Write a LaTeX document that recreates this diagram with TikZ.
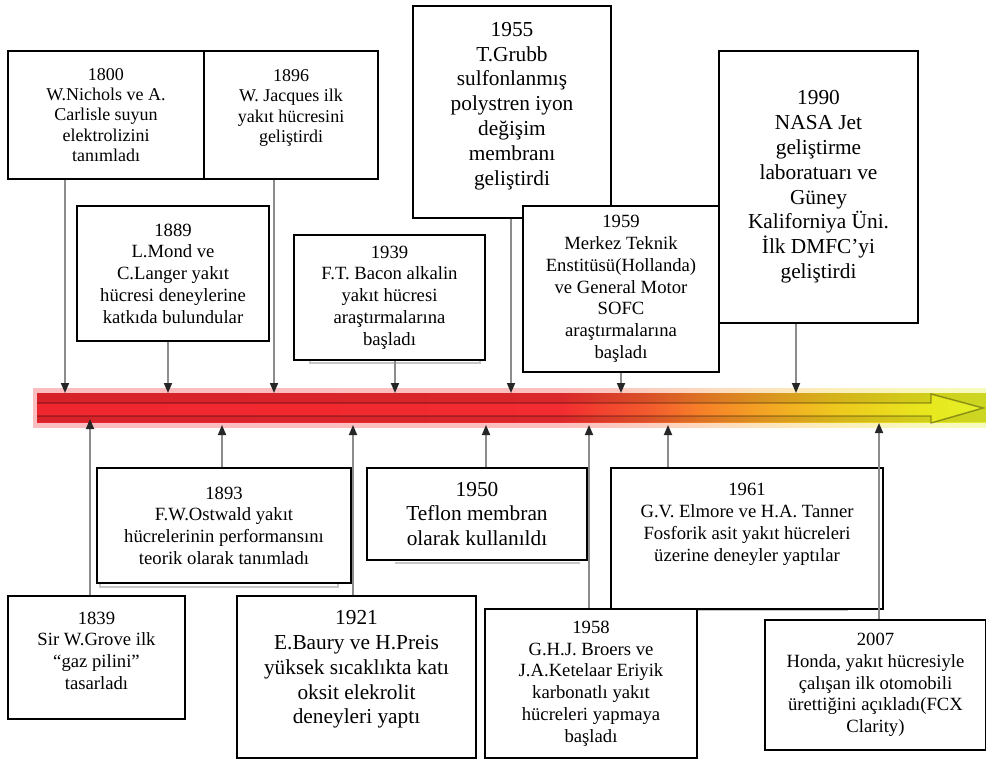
\documentclass[tikz,border=0pt]{standalone}
\usepackage{fontspec}
\setmainfont{Liberation Serif}
\usepackage{tikz}
\usetikzlibrary{arrows.meta}
\definecolor{barred}{RGB}{240,38,46}
\definecolor{barredb}{RGB}{242,44,48}
\definecolor{barredorange}{RGB}{242,88,45}
\definecolor{barorange}{RGB}{246,128,40}
\definecolor{barorangeb}{RGB}{243,166,35}
\definecolor{baryelloworange}{RGB}{238,200,30}
\definecolor{baryellow}{RGB}{232,232,30}
\definecolor{baryellowb}{RGB}{228,240,40}
\pgfdeclarehorizontalshading{barshade}{100bp}{
  color(0bp)=(barred); color(25bp)=(barred); color(52.5bp)=(barredb);
  color(57bp)=(barredorange); color(60bp)=(barorange); color(63.5bp)=(barorangeb);
  color(67bp)=(baryelloworange); color(72bp)=(baryellow); color(75bp)=(baryellowb);
  color(100bp)=(baryellowb)}

\begin{document}
\begin{tikzpicture}[
    x=0.75pt, y=-0.75pt,
    evbox/.style={rectangle, draw=black, line width=1.2pt, fill=white, align=center, inner sep=2pt, font=\fontsize{14}{16.3}\selectfont},
    smallbox/.style={evbox, font=\fontsize{13.5}{15.3}\selectfont},
    bigbox/.style={evbox, font=\fontsize{16}{18.6}\selectfont},
    boxsize/.style 2 args={minimum width=#1*0.75pt, minimum height=#2*0.75pt},
    evarrow/.style={draw=black!45, line width=1.3pt, -{Triangle[length=7.5pt, width=6pt, color=black!85]}},
    ghost/.style={draw=black!22, line width=1.5pt},
]
\useasboundingbox (0,0) rectangle (986,760);

% Timeline bar
\shade[shading=barshade, opacity=.3] (33,388) rectangle (986,427);
\shade[shading=barshade] (37,393) rectangle (986,422);
\fill[black, opacity=.1, even odd rule] (37,393) rectangle (986,422)
  (37,403) -- (931,403) -- (931,394) -- (983,408) -- (931,423) -- (931,416) -- (37,416) -- cycle;
\draw[black, opacity=.35, line width=1.1pt] (37,403) -- (931,403) -- (931,394) -- (983,408) -- (931,423) -- (931,416) -- (37,416);

\coordinate (d1800) at (65,393);
\coordinate (d1889) at (168,393);
\coordinate (d1896) at (274,393);
\coordinate (d1939) at (395,393);
\coordinate (d1955) at (511,393);
\coordinate (d1959) at (621,393);
\coordinate (d1990) at (796,393);
\coordinate (u1839) at (90,419);
\coordinate (u1893) at (222,425);
\coordinate (u1921) at (353,425);
\coordinate (u1950) at (486,425);
\coordinate (u1958) at (589,425);
\coordinate (u1961) at (668,425);
\coordinate (u2007) at (879,423);

% Faint shadows under some boxes
\draw[ghost] (100,583) |- (338,587) -- (338,583);
\draw[ghost] (310,357) |- (480,363) -- (480,357);
\draw[ghost] (395,563) -- (580,563);
\draw[ghost] (693,610) -- (848,610);

% Upper events
\node (b1800) [smallbox, boxsize={196}{128}] at (106,115) {1800\\W.Nichols ve A.\\Carlisle suyun\\elektrolizini\\tanımladı};
\node (b1896) [smallbox, boxsize={174}{128}] at (291,115) {1896\\W. Jacques ilk\\yakıt hücresini\\geliştirdi\\[-2pt]};
\node (b1889) [evbox, boxsize={192}{135}] at (173,273.5) {1889\\L.Mond ve\\C.Langer yakıt\\hücresi deneylerine\\katkıda bulundular};
\node (b1939) [evbox, boxsize={191}{125}] at (389.5,297.5) {1939\\F.T. Bacon alkalin\\yakıt hücresi\\araştırmalarına\\başladı};
\node (b1955) [bigbox, boxsize={198}{212}] at (512,112) {1955\\T.Grubb\\sulfonlanmış\\polystren iyon\\değişim\\membranı\\geliştirdi\\[-6pt]};
\node (b1959) [evbox, boxsize={196}{166}] at (621,289) {1959\\Merkez Teknik\\Enstitüsü(Hollanda)\\ve General Motor\\SOFC\\araştırmalarına\\başladı};
\node (b1990) [bigbox, boxsize={199}{272}] at (818.5,187) {1990\\NASA Jet\\geliştirme\\laboratuarı ve\\Güney\\Kaliforniya Üni.\\İlk DMFC’yi\\geliştirdi};

% Lower events
\node (b1893) [evbox, boxsize={254}{115}] at (224,525.5) {1893\\F.W.Ostwald yakıt\\hücrelerinin performansını\\teorik olarak tanımladı};
\node (b1950) [bigbox, boxsize={220}{92}] at (477,514) {1950\\Teflon membran\\olarak kullanıldı};
\node (b1961) [evbox, boxsize={272}{141}] at (747,538.5) {1961\\G.V. Elmore ve H.A. Tanner\\Fosforik asit yakıt hücreleri\\üzerine deneyler yaptılar\\[8pt]};
\node (b1839) [evbox, boxsize={177}{123}] at (96.5,657.5) {1839\\Sir W.Grove ilk\\“gaz pilini”\\tasarladı\\[-6pt]};
\node (b1921) [bigbox, boxsize={239}{162}] at (356.5,677) {1921\\E.Baury ve H.Preis\\yüksek sıcaklıkta katı\\oksit elekrolit\\deneyleri yaptı\\[-4pt]};
\node (b1958) [evbox, boxsize={212}{149}] at (591,683.5) {1958\\G.H.J. Broers ve\\J.A.Ketelaar Eriyik\\karbonatlı yakıt\\hücreleri yapmaya\\başladı};
\node (b2007) [evbox, boxsize={221}{130}] at (875.5,685) {2007\\Honda, yakıt hücresiyle\\çalışan ilk otomobili\\ürettiğini açıkladı(FCX\\Clarity)};

% Arrows
\draw[evarrow] (b1800.south -| d1800) -- (d1800);
\draw[evarrow] (b1889.south -| d1889) -- (d1889);
\draw[evarrow] (b1896.south -| d1896) -- (d1896);
\draw[evarrow] (b1939.south -| d1939) -- (d1939);
\draw[evarrow] (b1955.south -| d1955) -- (d1955);
\draw[evarrow] (b1959.south -| d1959) -- (d1959);
\draw[evarrow] (b1990.south -| d1990) -- (d1990);
\draw[evarrow] (b1839.north -| u1839) -- (u1839);
\draw[evarrow] (b1893.north -| u1893) -- (u1893);
\draw[evarrow] (b1921.north -| u1921) -- (u1921);
\draw[evarrow] (b1950.north -| u1950) -- (u1950);
\draw[evarrow] (b1958.north -| u1958) -- (u1958);
\draw[evarrow] (b1961.north -| u1961) -- (u1961);
\draw[evarrow] (b2007.north -| u2007) -- (u2007);

\end{tikzpicture}
\end{document}
